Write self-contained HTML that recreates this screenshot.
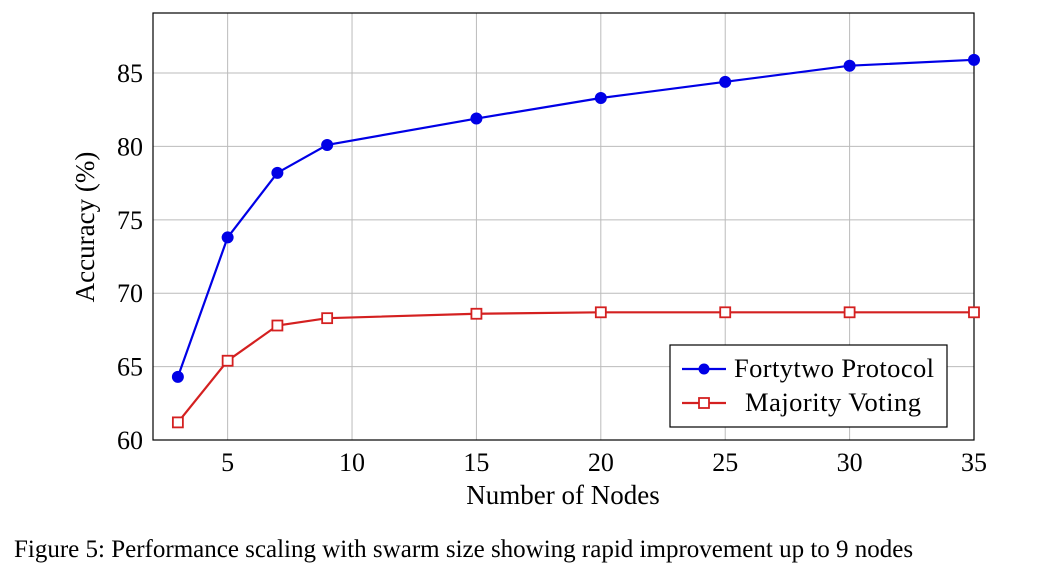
<!DOCTYPE html>
<html><head><meta charset="utf-8"><style>
body{margin:0;background:#fff;width:1060px;height:570px;overflow:hidden}
svg text{font-family:"Liberation Serif",serif;fill:#000}
</style></head><body>
<svg width="1060" height="570" id="chart"></svg>
<script>
const xs=[3,5,7,9,15,20,25,30,35];
const fortytwo=[64.3,73.8,78.2,80.1,81.9,83.3,84.4,85.5,85.9];
const majority=[61.2,65.4,67.8,68.3,68.6,68.7,68.7,68.7,68.7];
const xTicks=[5,10,15,20,25,30,35];
const yTicks=[60,65,70,75,80,85];
const L=153,R=974,T=13,B=440,xmin=2,xmax=35,ymin=60,ymax=89.09;
const X=v=>L+(v-xmin)/(xmax-xmin)*(R-L);
const Y=v=>B-(v-ymin)/(ymax-ymin)*(B-T);
const svg=document.getElementById('chart');const NS='http://www.w3.org/2000/svg';
function mk(t,a,p){const e=document.createElementNS(NS,t);for(const k in a)e.setAttribute(k,a[k]);(p||svg).appendChild(e);return e;}
xTicks.forEach(v=>{const g=mk('line',{x1:X(v),x2:X(v),y1:T,y2:B,stroke:'#bbb','stroke-width':1});


const t=mk('text',{x:X(v),y:B+31,'text-anchor':'middle','font-size':26});t.textContent=v;

});
yTicks.forEach(v=>{const g=mk('line',{x1:L,x2:R,y1:Y(v),y2:Y(v),stroke:'#bbb','stroke-width':1});


const t=mk('text',{x:L-10,y:Y(v)+9,'text-anchor':'end','font-size':26});t.textContent=v;

});
const fr=mk('rect',{x:L,y:T,width:R-L,height:B-T,fill:'none',stroke:'#000','stroke-width':1.2});


function series(vals,col,name,marker){
 const p=mk('polyline',{points:xs.map((x,i)=>X(x)+','+Y(vals[i])).join(' '),fill:'none',stroke:col,'stroke-width':2.2});
 
 
 xs.forEach((x,i)=>{let m;
  if(marker==='c')m=mk('circle',{cx:X(x),cy:Y(vals[i]),r:5.5,fill:col,stroke:col});
  else m=mk('rect',{x:X(x)-5,y:Y(vals[i])-5,width:10,height:10,fill:'#fff',stroke:col,'stroke-width':1.8});
  
  });
}
series(fortytwo,'#0000e6','fortytwo','c');
series(majority,'#d42020','majority','s');
const lg=mk('g',{});
mk('rect',{x:670,y:345,width:277,height:82,fill:'#fff',stroke:'#000','stroke-width':1.2},lg);
mk('line',{x1:682,x2:726,y1:369,y2:369,stroke:'#0000e6','stroke-width':2.2},lg);
mk('circle',{cx:704,cy:369,r:5.5,fill:'#0000e6'},lg);
let t=mk('text',{x:734,y:377,'font-size':26.5,textLength:200},lg);t.textContent='Fortytwo Protocol';
mk('line',{x1:682,x2:726,y1:403,y2:403,stroke:'#d42020','stroke-width':2.2},lg);
mk('rect',{x:699,y:398,width:10,height:10,fill:'#fff',stroke:'#d42020','stroke-width':1.8},lg);
t=mk('text',{x:745,y:411,'font-size':26.5,textLength:176},lg);t.textContent='Majority Voting';
t=mk('text',{x:563,y:504,'text-anchor':'middle','font-size':27});t.textContent='Number of Nodes';

t=mk('text',{x:0,y:0,'text-anchor':'middle','font-size':27,transform:'translate(94,227) rotate(-90)'});t.textContent='Accuracy (%)';

t=mk('text',{x:14,y:557,'font-size':25});t.textContent='Figure 5: Performance scaling with swarm size showing rapid improvement up to 9 nodes';

</script>
</body></html>
